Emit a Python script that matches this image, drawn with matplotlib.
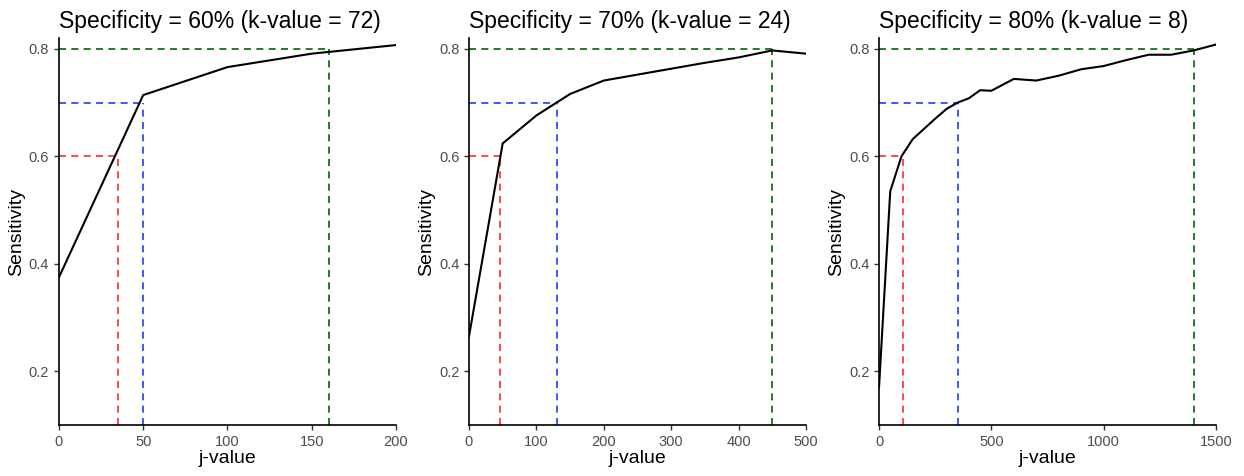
import matplotlib
matplotlib.use("Agg")
import matplotlib.pyplot as plt

plt.rcParams['font.family'] = ['Liberation Sans', 'DejaVu Sans']

titles = ["Specificity = 60% (k-value = 72)",
          "Specificity = 70% (k-value = 24)",
          "Specificity = 80% (k-value = 8)"]

j1 = [0, 50, 100, 150, 200]
s1 = [0.375, 0.714, 0.766, 0.791, 0.807]

j2 = [0, 50, 100, 150, 200, 250, 300, 350, 400, 450, 500]
s2 = [0.265, 0.624, 0.676, 0.716, 0.741, 0.752, 0.763, 0.774, 0.784, 0.797, 0.791]

j3 = [0, 50, 100, 150, 200, 250, 300, 350, 400, 450, 500, 600, 700, 800,
      900, 1000, 1100, 1200, 1300, 1400, 1500]
s3 = [0.17, 0.535, 0.60, 0.632, 0.651, 0.670, 0.688, 0.700, 0.708, 0.723,
      0.722, 0.744, 0.741, 0.750, 0.762, 0.768, 0.779, 0.789, 0.789, 0.797, 0.808]

# thresholds (sensitivity level, j-value reached)
sens_levels = [0.6, 0.7, 0.8]
level_colors = ["#FF2A2A", "#1F3BFF", "#006400"]
j_cut1 = [35, 50, 160]
j_cut2 = [46, 130, 450]
j_cut3 = [105, 350, 1400]

xmax = [200, 500, 1500]
xticks = [[0, 50, 100, 150, 200],
          [0, 100, 200, 300, 400, 500],
          [0, 500, 1000, 1500]]
yticks = [0.2, 0.4, 0.6, 0.8]
ylims = (0.1, 0.82)

data = [(j1, s1, j_cut1), (j2, s2, j_cut2), (j3, s3, j_cut3)]
lefts = [0.0474, 0.377, 0.7066]
width = 0.2709

fig = plt.figure(figsize=(12.44, 4.76), dpi=100)
for i, (jj, ss, cuts) in enumerate(data):
    ax = fig.add_axes([lefts[i], 0.107, width, 0.813])
    for lvl, col, c in zip(sens_levels, level_colors, cuts):
        ax.plot([0, c], [lvl, lvl], color=col, ls=(0, (4.2, 3.2)), lw=1.2)
        ax.plot([c, c], [ylims[0], lvl], color=col, ls=(0, (4.2, 3.2)), lw=1.2)
    ax.plot(jj, ss, color="black", lw=1.5)
    ax.set_xlim(0, xmax[i])
    ax.set_ylim(*ylims)
    ax.set_xticks(xticks[i])
    ax.set_yticks(yticks)
    ax.set_yticklabels([f"{v:.1f}" for v in yticks])
    for side in ("top", "right"):
        ax.spines[side].set_visible(False)
    for side in ("left", "bottom"):
        ax.spines[side].set_linewidth(1.2)
        ax.spines[side].set_color("black")
    ax.tick_params(axis="both", colors="#333333", labelcolor="#4D4D4D",
                   labelsize=10.5, length=3.5, width=1, direction="out")
    ax.set_xlabel("j-value", fontsize=14, labelpad=1)
    ax.set_ylabel("Sensitivity", fontsize=14, labelpad=3)
    ax.set_title(titles[i], fontsize=16.5, loc="left", pad=7)

fig.savefig("out.png", dpi=100)
